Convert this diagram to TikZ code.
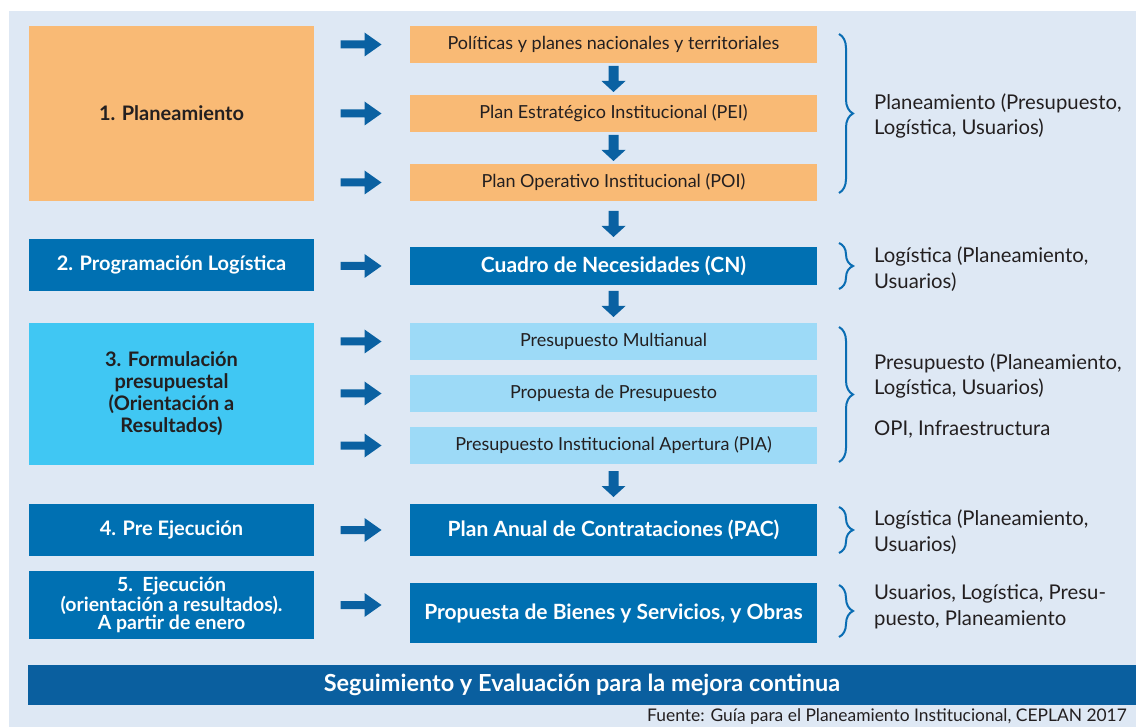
\documentclass[tikz,border=0pt]{standalone}
\usepackage{fontspec}
\setmainfont{Lato}
\usetikzlibrary{calc,decorations.pathreplacing}

\definecolor{bgblue}{HTML}{DEE8F4}
\definecolor{planorange}{HTML}{F9BA75}
\definecolor{boxblue}{HTML}{0070B2}
\definecolor{formcyan}{HTML}{40C7F3}
\definecolor{paleblue}{HTML}{9DDAF7}
\definecolor{arrowblue}{HTML}{0A61A2}
\definecolor{bandblue}{HTML}{0A5F9F}
\definecolor{braceblue}{HTML}{0A6DB3}
\definecolor{inkdark}{HTML}{231F20}

\begin{document}
\begin{tikzpicture}[x=1pt, y=-1pt,
    stage/.style={minimum width=285pt, inner sep=0pt, align=center, font=\fontsize{20}{22}\selectfont\bfseries},
    product/.style={minimum width=407pt, minimum height=37pt, inner sep=0pt, text=inkdark, font=\fontsize{18}{21}\selectfont},
    keyproduct/.style={product, fill=boxblue, text=white, font=\fontsize{21}{24}\selectfont\bfseries},
    actors/.style={anchor=west, inner sep=0pt, align=left, text=inkdark, font=\fontsize{20.3}{25.5}\selectfont},
    actorbrace/.style={draw=braceblue, line width=2pt, decorate, decoration={brace, amplitude=14pt}},
    rarrow/.pic={\fill[arrowblue] (-20,-4) -- (4,-4) -- (4,-12) -- (21,0) -- (4,12) -- (4,4) -- (-20,4) -- cycle;},
    darrow/.pic={\fill[arrowblue] (-5,-13) -- (5,-13) -- (5,2) -- (12,2) -- (0,13) -- (-12,2) -- (-5,2) -- cycle;}
]
\useasboundingbox (0,0) rectangle (1136,727);
\fill[bgblue] (9,11) rectangle (1136,727);

% Stages (left column)
\node[stage, fill=planorange, text=inkdark, minimum height=175pt] (plan) at (171.5,113.5) {1. Planeamiento};
\node[stage, fill=boxblue, text=white, minimum height=52pt] (prog) at (171.5,265) {2. Programación Logística};
\node[stage, fill=formcyan, text=inkdark, minimum height=142pt] (form) at (171.5,394)
    {3. Formulación\\presupuestal\\(Orientación a\\Resultados)};
\node[stage, fill=boxblue, text=white, minimum height=52pt] (preej) at (171.5,530) {4. Pre Ejecución};
\node[stage, fill=boxblue, text=white, minimum height=68pt, font=\fontsize{19.5}{18.5}\selectfont\bfseries] (ejec) at (171.5,605)
    {5.\ \ Ejecución\\(orientación a resultados).\\A partir de enero};

% Products (middle column)
\node[product, fill=planorange] (pol) at (613.5,44.5) {Políticas y planes nacionales y territoriales};
\node[product, fill=planorange] (pei) at (613.5,113.5) {Plan Estratégico Institucional (PEI)};
\node[product, fill=planorange] (poi) at (613.5,182.5) {Plan Operativo Institucional (POI)};
\node[keyproduct, minimum height=38pt] (cn) at (613.5,266) {Cuadro de Necesidades (CN)};
\node[product, fill=paleblue] (pm) at (613.5,341.5) {Presupuesto Multianual};
\node[product, fill=paleblue] (pp) at (613.5,393.5) {Propuesta de Presupuesto};
\node[product, fill=paleblue] (pia) at (613.5,445.5) {Presupuesto Institucional Apertura (PIA)};
\node[keyproduct, minimum height=52pt] (pac) at (613.5,530) {Plan Anual de Contrataciones (PAC)};
\node[keyproduct, minimum height=60pt] (pbs) at (613.5,613) {Propuesta de Bienes y Servicios, y Obras};

% Block arrows
\foreach \n in {pol,pei,poi,cn,pm,pp,pia,pac,ejec}
    \pic at (360.5,0 |- \n) {rarrow};
\foreach \a/\b in {pol/pei,pei/poi,poi/cn,cn/pm,pia/pac}
    \pic at ($(\a.south)!0.5!(\b.north)$) {darrow};

% Responsible areas (right column)
\foreach \ya/\yb in {34/193,243/289,327/462,507/553,585/637}
    \draw[actorbrace] (839,\ya) -- (839,\yb);
\node[actors] (plancargo) at (874,116) {Planeamiento (Presupuesto,\\Logística, Usuarios)};
\node[actors] (progcargo) at (874,269) {Logística (Planeamiento,\\Usuarios)};
\node[actors] (formcargo) at (874,376) {Presupuesto (Planeamiento,\\Logística, Usuarios)};
\node[actors] (opicargo) at (874,429) {OPI, Infraestructura};
\node[actors] (preejcargo) at (874,532) {Logística (Planeamiento,\\Usuarios)};
\node[actors] (ejeccargo) at (874,607) {Usuarios, Logística, Presu-\\puesto, Planeamiento};

% Bottom band and source
\node[fill=bandblue, text=white, minimum width=1108pt, minimum height=40pt, inner sep=0pt, font=\fontsize{23.5}{26}\selectfont\bfseries] (seg) at (582,685)
    {Seguimiento y Evaluación para la mejora continua};
\node[anchor=east, inner sep=0pt, text=inkdark, font=\fontsize{17.4}{20}\selectfont] (fuente) at (1127,717)
    {Fuente: Guía para el Planeamiento Institucional, CEPLAN 2017};
\end{tikzpicture}
\end{document}
